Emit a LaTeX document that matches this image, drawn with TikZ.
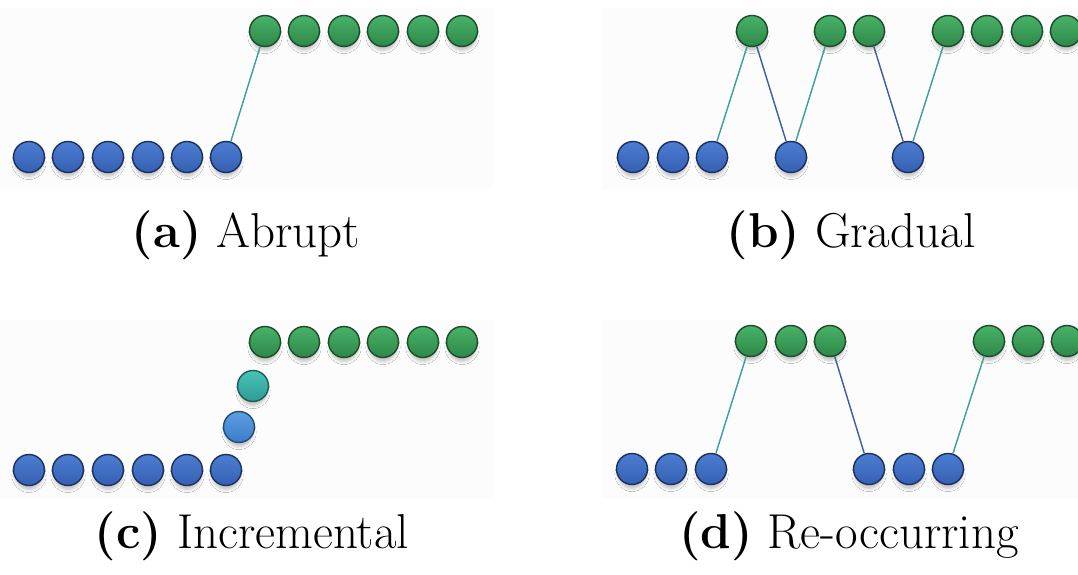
\documentclass[tikz,border=0pt]{standalone}
\usetikzlibrary{shadows.blur}
\definecolor{bluetop}{HTML}{4C7DD2}
\definecolor{bluebot}{HTML}{3560B2}
\definecolor{blueline}{HTML}{1B2F5E}
\definecolor{greentop}{HTML}{48B268}
\definecolor{greenbot}{HTML}{2E8848}
\definecolor{greenline}{HTML}{1C4A2A}
\definecolor{tealtop}{HTML}{48C2B7}
\definecolor{tealbot}{HTML}{2E9C93}
\definecolor{tealline}{HTML}{1D5A55}
\definecolor{ltbluetop}{HTML}{5E9FE2}
\definecolor{ltbluebot}{HTML}{3A7CC8}
\definecolor{ltblueline}{HTML}{1F4A7A}
\definecolor{uplink}{HTML}{3A9E9A}
\definecolor{downlink}{HTML}{3B5BA5}
\definecolor{panelbg}{HTML}{FCFCFD}
\tikzset{
  dot/.style={circle, minimum size=31pt, inner sep=0pt, line width=1.4pt,
    blur shadow={shadow xshift=0pt, shadow yshift=-6pt, shadow blur radius=3.5pt, shadow opacity=24, shadow scale=0.9}},
  olddot/.style={dot, draw=blueline, top color=bluetop, bottom color=bluebot},
  newdot/.style={dot, draw=greenline, top color=greentop, bottom color=greenbot},
  middot/.style={dot, draw=tealline, top color=tealtop, bottom color=tealbot},
  earlydot/.style={dot, draw=ltblueline, top color=ltbluetop, bottom color=ltbluebot},
  uplinkline/.style={draw=uplink, line width=1.4pt},
  downlinkline/.style={draw=downlink, line width=1.4pt},
  caption/.style={font=\fontsize{49}{58}\selectfont, anchor=base, inner sep=0pt},
  panel/.style={fill=panelbg, draw=none}
}
\begin{document}
\begin{tikzpicture}[x=1pt, y=-1pt]
  \useasboundingbox (0,0) rectangle (1078,575);
  \fill[white] (0,0) rectangle (1078,575);
  % panel backgrounds
  \path[panel] (0,8) rectangle (493,190);
  \path[panel] (602,8) rectangle (1078,190);
  \path[panel] (0,320) rectangle (493,498);
  \path[panel] (602,320) rectangle (1078,498);

  % (a) Abrupt
  \foreach \x [count=\i] in {29,68,108,148,187,226}
    \node[olddot] (a\i) at (\x,157) {};
  \foreach \x [count=\i] in {265,304,344,383,423,462}
    \node[newdot] (A\i) at (\x,31) {};
  \draw[uplinkline] (a6) -- (A1);
  \node[caption] (capa) at (246,247) {\textbf{(a)} Abrupt};

  % (b) Gradual
  \foreach \x [count=\i] in {633,673,712,791,908}
    \node[olddot] (b\i) at (\x,157) {};
  \foreach \x [count=\i] in {752,830,869,948,987,1027,1066}
    \node[newdot] (B\i) at (\x,31) {};
  \draw[uplinkline] (b3) -- (B1);
  \draw[downlinkline] (B1) -- (b4);
  \draw[uplinkline] (b4) -- (B2);
  \draw[downlinkline] (B3) -- (b5);
  \draw[uplinkline] (b5) -- (B4);
  \node[caption] (capb) at (851,247) {\textbf{(b)} Gradual};

  % (c) Incremental
  \foreach \x [count=\i] in {29,68,108,148,187,226}
    \node[olddot] (c\i) at (\x,470) {};
  \node[earlydot] (cm1) at (239,427) {};
  \node[middot] (cm2) at (253,386) {};
  \foreach \x [count=\i] in {265,304,344,383,423,462}
    \node[newdot] (C\i) at (\x,342) {};
  \node[caption] (capc) at (252,548) {\textbf{(c)} Incremental};

  % (d) Re-occurring
  \foreach \x [count=\i] in {632,671,711,869,909,948}
    \node[olddot] (d\i) at (\x,469) {};
  \foreach \x [count=\i] in {751,791,830,989,1028,1067}
    \node[newdot] (D\i) at (\x,341) {};
  \draw[uplinkline] (d3) -- (D1);
  \draw[downlinkline] (D3) -- (d4);
  \draw[uplinkline] (d6) -- (D4);
  \node[caption] (capd) at (849,548) {\textbf{(d)} Re-occurring};
\end{tikzpicture}
\end{document}
